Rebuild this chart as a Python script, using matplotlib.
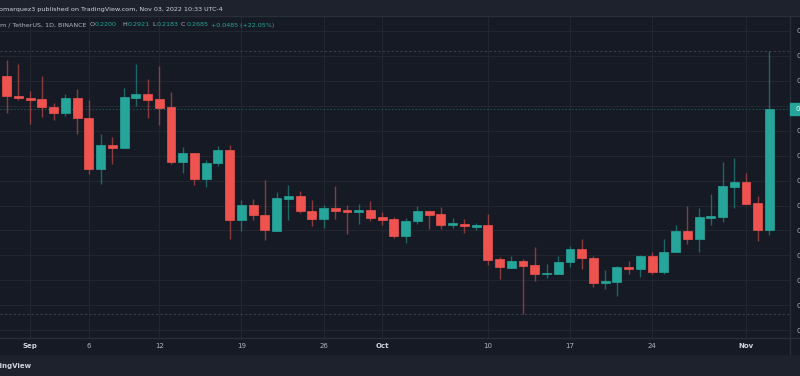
import numpy as np
import pandas as pd
import matplotlib
matplotlib.use("Agg")
from matplotlib import pyplot as plt
from matplotlib.patches import Rectangle

# daily candles, Aug 30 -> Nov 3 2022
dates = pd.date_range("2022-08-30", "2022-11-03", freq="D")

opens = [0.2819, 0.2740, 0.2732, 0.2727, 0.2695, 0.2671, 0.2730, 0.2651, 0.2448, 0.2541,
         0.2532, 0.2732, 0.2746, 0.2726, 0.2694, 0.2476, 0.2511, 0.2406, 0.2471, 0.2521,
         0.2242, 0.2302, 0.2263, 0.2199, 0.2327, 0.2338, 0.2278, 0.2245, 0.2290, 0.2282,
         0.2274, 0.2281, 0.2253, 0.2246, 0.2179, 0.2239, 0.2278, 0.2265, 0.2222, 0.2226,
         0.2215, 0.2222, 0.2085, 0.2051, 0.2079, 0.2061, 0.2024, 0.2026, 0.2074, 0.2127,
         0.2091, 0.1990, 0.1995, 0.2055, 0.2047, 0.2097, 0.2034, 0.2113, 0.2197, 0.2167,
         0.2249, 0.2254, 0.2376, 0.2393, 0.2309, 0.2200]
highs = [0.2883, 0.2866, 0.2760, 0.2819, 0.2710, 0.2747, 0.2767, 0.2723, 0.2586, 0.2575,
         0.2772, 0.2866, 0.2807, 0.2858, 0.2756, 0.2535, 0.2511, 0.2483, 0.2537, 0.2543,
         0.2322, 0.2325, 0.2404, 0.2353, 0.2382, 0.2360, 0.2321, 0.2302, 0.2380, 0.2302,
         0.2306, 0.2318, 0.2273, 0.2255, 0.2249, 0.2299, 0.2279, 0.2295, 0.2251, 0.2247,
         0.2229, 0.2266, 0.2094, 0.2098, 0.2087, 0.2135, 0.2067, 0.2099, 0.2137, 0.2167,
         0.2099, 0.2040, 0.2057, 0.2079, 0.2102, 0.2113, 0.2166, 0.2222, 0.2299, 0.2291,
         0.2345, 0.2473, 0.2489, 0.2429, 0.2338, 0.2921]
lows = [0.2672, 0.2723, 0.2627, 0.2656, 0.2642, 0.2660, 0.2587, 0.2425, 0.2386, 0.2467,
        0.2532, 0.2699, 0.2651, 0.2623, 0.2467, 0.2432, 0.2384, 0.2374, 0.2457, 0.2166,
        0.2198, 0.2243, 0.2162, 0.2199, 0.2241, 0.2269, 0.2218, 0.2211, 0.2245, 0.2187,
        0.2226, 0.2239, 0.2222, 0.2169, 0.2151, 0.2227, 0.2207, 0.2206, 0.2211, 0.2191,
        0.2201, 0.2062, 0.2004, 0.2051, 0.1864, 0.1998, 0.2008, 0.2026, 0.2054, 0.2047,
        0.1972, 0.1967, 0.1937, 0.2026, 0.2015, 0.2027, 0.2027, 0.2113, 0.2146, 0.2115,
        0.2222, 0.2234, 0.2290, 0.2307, 0.2159, 0.2183]
closes = [0.2739, 0.2732, 0.2724, 0.2696, 0.2671, 0.2730, 0.2650, 0.2448, 0.2541, 0.2532,
          0.2734, 0.2746, 0.2723, 0.2692, 0.2476, 0.2511, 0.2406, 0.2471, 0.2521, 0.2241,
          0.2302, 0.2262, 0.2201, 0.2329, 0.2338, 0.2279, 0.2245, 0.2289, 0.2278, 0.2275,
          0.2282, 0.2251, 0.2243, 0.2179, 0.2239, 0.2279, 0.2262, 0.2222, 0.2229, 0.2217,
          0.2222, 0.2082, 0.2053, 0.2079, 0.2059, 0.2026, 0.2030, 0.2073, 0.2127, 0.2089,
          0.1990, 0.1998, 0.2053, 0.2047, 0.2097, 0.2034, 0.2114, 0.2197, 0.2167, 0.2253,
          0.2257, 0.2377, 0.2393, 0.2307, 0.2201, 0.2685]

tick_dates = ["2022-09-01", "2022-09-06", "2022-09-12", "2022-09-19", "2022-09-26",
              "2022-10-01", "2022-10-10", "2022-10-17", "2022-10-24", "2022-11-01"]
tick_labels = ["Sep", "6", "12", "19", "26", "Oct", "10", "17", "24", "Nov"]
price_ticks = np.round(np.arange(0.18, 0.305, 0.01), 2)

high_line = 0.2921
low_line = 0.1864

BG = "#161a25"
BAR = "#1e222d"
GRID = "#22262f"
UP = "#26a69a"
DOWN = "#ef5350"
TXT = "#b2b5be"

W, H = 800, 376


def fx(px):
    return px / W


def fy(py):
    return 1 - py / H


fig = plt.figure(figsize=(8, 3.76), dpi=100, facecolor=BAR)
fig.patches.append(Rectangle((0, fy(354)), 1, fy(16) - fy(354), transform=fig.transFigure,
                             color=BG, zorder=-5))

ax = fig.add_axes([0, fy(338), fx(790), fy(16) - fy(338)])
ax.set_facecolor(BG)

x = np.arange(len(dates))
o = np.array(opens)
c = np.array(closes)
up = c >= o
colors = np.where(up, UP, DOWN)

ax.vlines(x, lows, highs, colors=colors, linewidth=1.0, alpha=0.55, zorder=2)
bottoms = np.minimum(o, c)
heights = np.maximum(np.abs(c - o), 0.0003)
ax.bar(x, heights, bottom=bottoms, width=0.76, color=colors, edgecolor=colors,
       linewidth=0.5, zorder=3)

ax.axhline(high_line, color="#3b3f4b", linestyle=(0, (2, 2)), linewidth=0.8, zorder=1)
ax.axhline(low_line, color="#3b3f4b", linestyle=(0, (2, 2)), linewidth=0.8, zorder=1)
ax.axhline(closes[-1], color=UP, linestyle=(0, (1.5, 2)), linewidth=0.7, alpha=0.45, zorder=1)

ax.set_xlim(-0.571, 66.75)
ax.set_ylim(0.17691, 0.30597)

tick_idx = dates.get_indexer(pd.to_datetime(tick_dates))
ax.set_xticks(tick_idx)
ax.set_xticklabels(tick_labels)
ax.tick_params(axis="x", length=0, pad=3.5, labelsize=5, colors=TXT)
for lab in ax.get_xticklabels():
    if not lab.get_text().isdigit():
        lab.set_fontweight("bold")
        lab.set_color("#d1d4dc")

# the label next to the last-price tag is hidden, as on the price scale
ax.set_yticks(price_ticks)
ax.set_yticklabels(["" if abs(p - closes[-1]) < 0.003 else f"{p:.4f}" for p in price_ticks])
ax.yaxis.tick_right()
ax.tick_params(axis="y", length=0, pad=4.5, labelsize=5, colors=TXT)

ax.grid(True, color=GRID, linewidth=0.8)
ax.set_axisbelow(True)
for s in ax.spines.values():
    s.set_visible(False)

# pane separators
fig.add_artist(plt.Line2D([0, 1], [fy(338), fy(338)], color="#2a2e39", linewidth=1))
fig.add_artist(plt.Line2D([fx(790), fx(790)], [fy(16), fy(354)], color="#2a2e39", linewidth=1))
fig.add_artist(plt.Line2D([0, 1], [fy(16), fy(16)], color="#2a2e39", linewidth=1))

# last price tag
fig.patches.append(Rectangle((fx(790), fy(115)), fx(12), fy(103) - fy(115),
                             transform=fig.transFigure, color=UP, zorder=5))
fig.text(fx(796), fy(109), f"{closes[-1]:.4f}", color="white", fontsize=5,
         va="center", ha="left", zorder=6)

# header
fig.text(fx(-1), fy(9), "omarquez3 published on TradingView.com, Nov 03, 2022 10:33 UTC-4",
         color="#d1d4dc", fontsize=4.6, va="center", ha="left")

legend_parts = [
    (0, "m / TetherUS, 1D, BINANCE", TXT),
    (90, "O", TXT), (95, "0.2200", UP),
    (122, "H", TXT), (128, "0.2921", UP),
    (152, "L", TXT), (157, "0.2183", UP),
    (181, "C", TXT), (187, "0.2685", UP),
    (211, "+0.0485 (+22.05%)", UP),
]
for px, s, col in legend_parts:
    fig.text(fx(px), fy(25), s, color=col, fontsize=4.6, va="center", ha="left")

fig.text(fx(32), fy(366), "TradingView", color="#d1d4dc", fontsize=5,
         fontweight="bold", va="center", ha="right")

fig.savefig("out.png", dpi=100, facecolor=BAR)
